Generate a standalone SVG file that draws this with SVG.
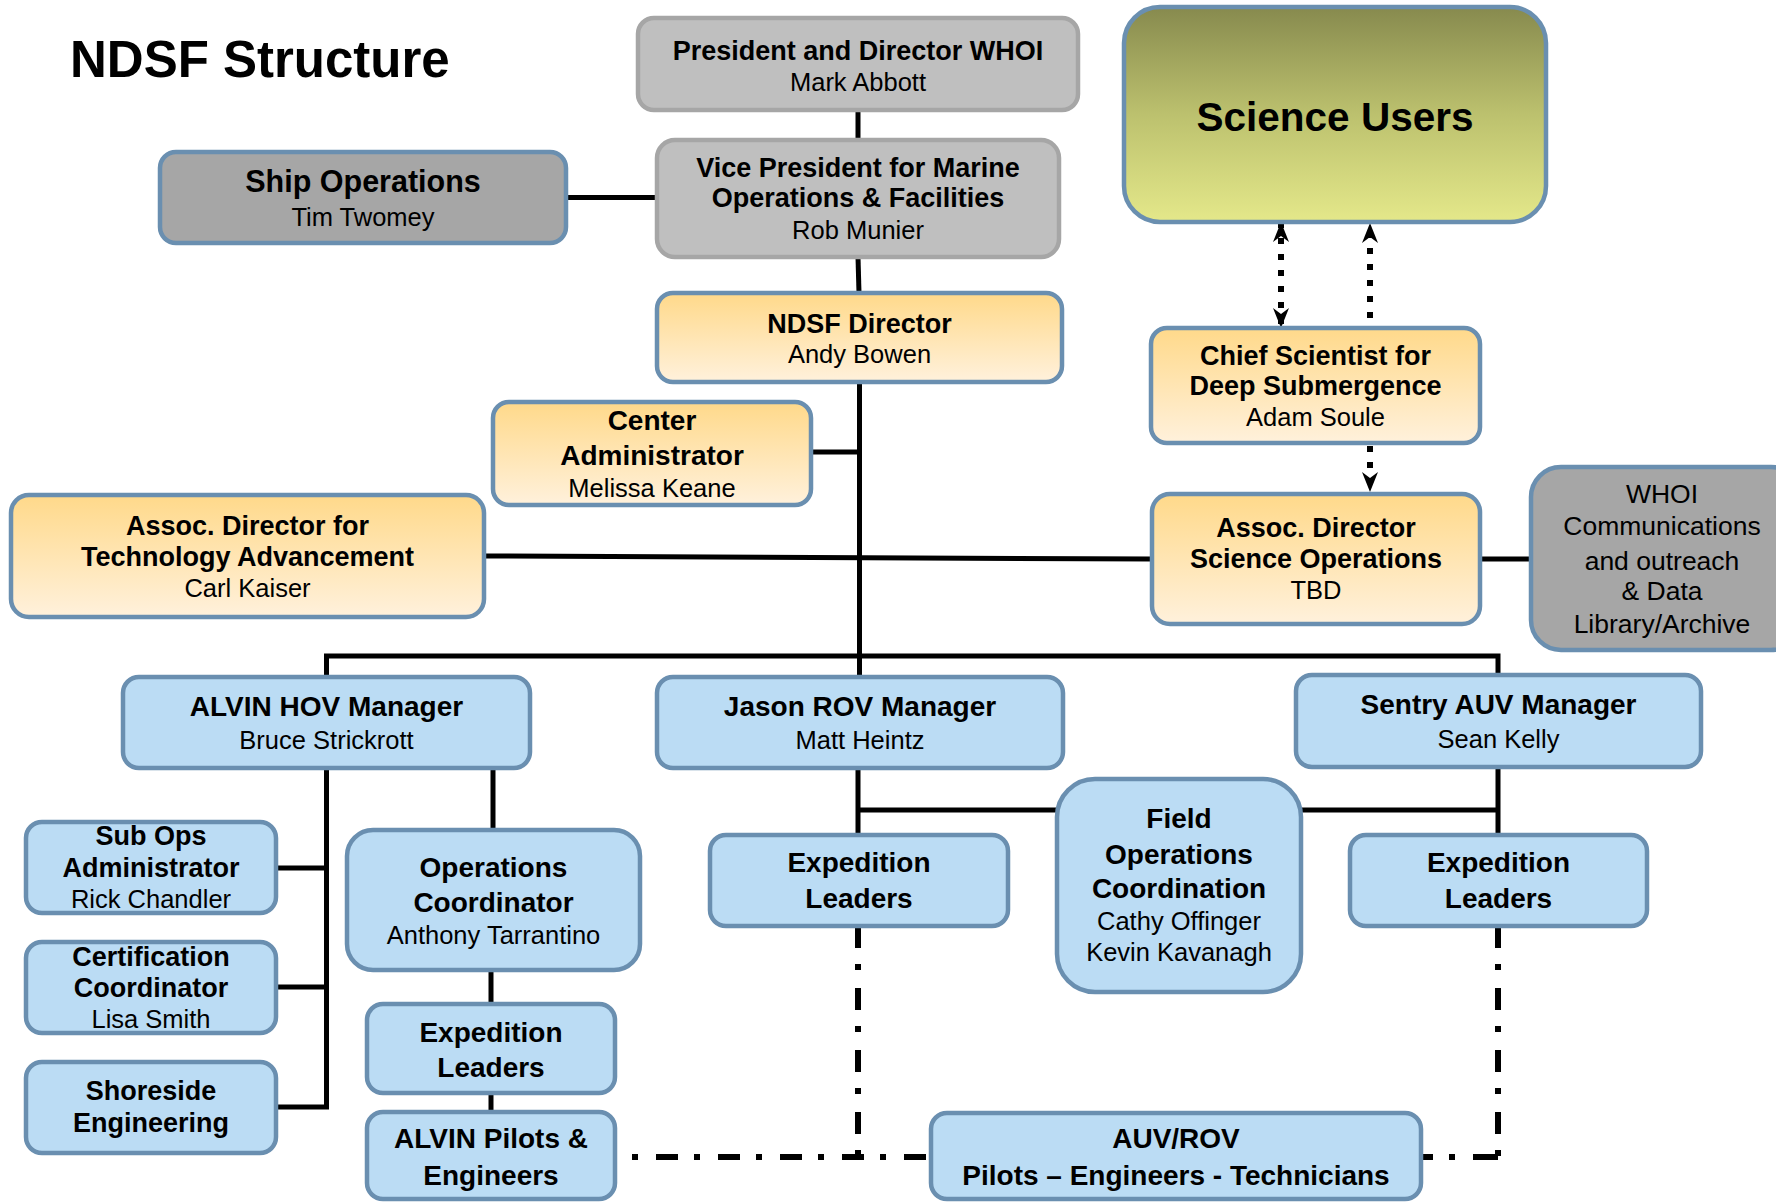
<svg xmlns="http://www.w3.org/2000/svg" width="1776" height="1202" viewBox="0 0 1776 1202">
<defs>
<linearGradient id="gOr" x1="0" y1="0" x2="0" y2="1"><stop offset="0" stop-color="#ffd98a"/><stop offset="1" stop-color="#fff1dc"/></linearGradient>
<linearGradient id="gSci" x1="0" y1="0" x2="0" y2="1"><stop offset="0" stop-color="#878a4e"/><stop offset="0.5" stop-color="#bcc16e"/><stop offset="1" stop-color="#e4e88a"/></linearGradient>
<marker id="ah" viewBox="0 0 20 16" refX="20" refY="8" markerWidth="20" markerHeight="16" markerUnits="userSpaceOnUse" orient="auto-start-reverse"><path d="M0,0 L20,8 L0,16 L6,8 Z" fill="#000"/></marker>
<style>
.b{stroke:#6a8fb0;stroke-width:4.5}
.g{fill:#bfbfbf;stroke:#a6a6a6;stroke-width:4.5}
.dg{fill:#a6a6a6}
.or{fill:url(#gOr)}
.bl{fill:#bbdcf4}
text{font-family:"Liberation Sans",Arial,sans-serif;text-anchor:middle;fill:#000}
.t{font-weight:bold;font-size:27px}
.t8{font-weight:bold;font-size:28px}
.n{font-size:25.5px}
.ln{fill:none;stroke:#000;stroke-width:5}
.dt{fill:none;stroke:#000;stroke-width:6;stroke-dasharray:6 10}
.dd{fill:none;stroke:#000;stroke-width:6;stroke-dasharray:22 16 6 18}
</style>
</defs>
<rect width="1776" height="1202" fill="#fff"/>
<text x="70" y="77" style="font-weight:bold;font-size:51px;text-anchor:start">NDSF Structure</text>

<g id="connectors">
<path class="ln" d="M858,110 V140"/>
<path class="ln" d="M566,197.5 H657"/>
<path class="ln" d="M858,257 L859,293"/>
<path class="ln" d="M859.5,382 V677"/>
<path class="ln" d="M811,452 H859.5"/>
<path class="ln" d="M484,556 L1152,559"/>
<path class="ln" d="M326.5,677 V656 H1498 V675"/>
<path class="ln" d="M1480,559 H1531"/>
<path class="ln" d="M326.5,768 V1109"/>
<path class="ln" d="M275.5,868 H326.5 M275.5,987 H326.5 M275.5,1107 H329"/>
<path class="ln" d="M493,768 V830"/>
<path class="ln" d="M491,970 V1004"/>
<path class="ln" d="M491,1093 V1112"/>
<path class="ln" d="M858,768 V835 M858,810 H1057"/>
<path class="ln" d="M1301,810 H1498 M1498,767 V835"/>
<path class="dd" d="M858,926 V1157"/>
<path class="dd" style="stroke-dasharray:6 18 22 16" d="M632,1157 H931"/>
<path class="dd" d="M1498,926 V1157"/>
<path class="dd" style="stroke-dasharray:12 16 6 18 30 10" d="M1421,1157 H1498"/>
<path class="dt" d="M1281,222 V328" marker-start="url(#ah)" marker-end="url(#ah)"/>
<path class="dt" d="M1370,318 V223" marker-end="url(#ah)"/>
<path class="dt" d="M1370,446 V492" marker-end="url(#ah)"/>
</g>

<g id="president"><rect class="g" x="638" y="18" width="440" height="92" rx="16"/>
<text class="t" x="858" y="60">President and Director WHOI</text><text class="n" x="858" y="91">Mark Abbott</text></g>

<g id="vp"><rect class="g" x="657" y="140" width="402" height="117" rx="18"/>
<text class="t" x="858" y="177">Vice President for Marine</text><text class="t" x="858" y="207">Operations &amp; Facilities</text><text class="n" x="858" y="239">Rob Munier</text></g>

<g id="ship"><rect class="b dg" x="160" y="152" width="406" height="91" rx="16"/>
<text x="363" y="192" style="font-weight:bold;font-size:30.5px">Ship Operations</text><text class="n" x="363" y="226">Tim Twomey</text></g>

<g id="science"><rect class="b" fill="url(#gSci)" x="1124" y="7" width="422" height="215" rx="36"/>
<text x="1335" y="131" style="font-weight:bold;font-size:40.5px">Science Users</text></g>

<g id="ndsf"><rect class="b or" x="657" y="293" width="405" height="89" rx="16"/>
<text class="t" x="859.5" y="333">NDSF Director</text><text class="n" x="859.5" y="363">Andy Bowen</text></g>

<g id="chief"><rect class="b or" x="1151" y="328" width="329" height="115" rx="16"/>
<text class="t" x="1315.5" y="365">Chief Scientist for</text><text class="t" x="1315.5" y="395">Deep Submergence</text><text class="n" x="1315.5" y="426">Adam Soule</text></g>

<g id="admin"><rect class="b or" x="493" y="402" width="318" height="103" rx="16"/>
<text class="t8" x="652" y="430">Center</text><text class="t8" x="652" y="465">Administrator</text><text class="n" x="652" y="497">Melissa Keane</text></g>

<g id="techadv"><rect class="b or" x="11" y="495" width="473" height="122" rx="18"/>
<text class="t" x="247.5" y="535">Assoc. Director for</text><text class="t" x="247.5" y="566">Technology Advancement</text><text class="n" x="247.5" y="597">Carl Kaiser</text></g>

<g id="assocsci"><rect class="b or" x="1152" y="494" width="328" height="130" rx="18"/>
<text class="t" x="1316" y="537">Assoc. Director</text><text class="t" x="1316" y="568">Science Operations</text><text class="n" x="1316" y="599">TBD</text></g>

<g id="whoi"><rect class="b dg" x="1531" y="467" width="270" height="183" rx="30"/>
<text x="1662" y="503" style="font-size:26.5px">WHOI</text><text x="1662" y="535" style="font-size:26.5px">Communications</text><text x="1662" y="570" style="font-size:26.5px">and outreach</text><text x="1662" y="600" style="font-size:26.5px">&amp; Data</text><text x="1662" y="633" style="font-size:26.5px">Library/Archive</text></g>

<g id="alvin"><rect class="b bl" x="123" y="677" width="407" height="91" rx="16"/>
<text class="t8" x="326.5" y="716">ALVIN HOV Manager</text><text class="n" x="326.5" y="749">Bruce Strickrott</text></g>

<g id="jason"><rect class="b bl" x="657" y="677" width="406" height="91" rx="16"/>
<text class="t8" x="860" y="716">Jason ROV Manager</text><text class="n" x="860" y="749">Matt Heintz</text></g>

<g id="sentry"><rect class="b bl" x="1296" y="675" width="405" height="92" rx="16"/>
<text class="t8" x="1498.5" y="714">Sentry AUV Manager</text><text class="n" x="1498.5" y="748">Sean Kelly</text></g>

<g id="subops"><rect class="b bl" x="26" y="822" width="250" height="91" rx="16"/>
<text class="t" x="151" y="845">Sub Ops</text><text class="t" x="151" y="877">Administrator</text><text class="n" x="151" y="908">Rick Chandler</text></g>

<g id="cert"><rect class="b bl" x="26" y="942" width="250" height="91" rx="16"/>
<text class="t" x="151" y="966">Certification</text><text class="t" x="151" y="997">Coordinator</text><text class="n" x="151" y="1028">Lisa Smith</text></g>

<g id="shore"><rect class="b bl" x="26" y="1062" width="250" height="91" rx="16"/>
<text class="t" x="151" y="1100">Shoreside</text><text class="t" x="151" y="1132">Engineering</text></g>

<g id="opscoord"><rect class="b bl" x="347" y="830" width="293" height="140" rx="26"/>
<text class="t8" x="493.5" y="877">Operations</text><text class="t8" x="493.5" y="912">Coordinator</text><text class="n" x="493.5" y="944">Anthony Tarrantino</text></g>

<g id="expL"><rect class="b bl" x="367" y="1004" width="248" height="89" rx="16"/>
<text class="t8" x="491" y="1042">Expedition</text><text class="t8" x="491" y="1077">Leaders</text></g>

<g id="pilotsL"><rect class="b bl" x="367" y="1112" width="248" height="87" rx="16"/>
<text class="t8" x="491" y="1148">ALVIN Pilots &amp;</text><text class="t8" x="491" y="1185">Engineers</text></g>

<g id="expM"><rect class="b bl" x="710" y="835" width="298" height="91" rx="16"/>
<text class="t8" x="859" y="872">Expedition</text><text class="t8" x="859" y="908">Leaders</text></g>

<g id="field"><rect class="b bl" x="1057" y="779" width="244" height="213" rx="38"/>
<text class="t8" x="1179" y="828">Field</text><text class="t8" x="1179" y="864">Operations</text><text class="t8" x="1179" y="898">Coordination</text><text class="n" x="1179" y="930">Cathy Offinger</text><text class="n" x="1179" y="961">Kevin Kavanagh</text></g>

<g id="expR"><rect class="b bl" x="1350" y="835" width="297" height="91" rx="16"/>
<text class="t8" x="1498.5" y="872">Expedition</text><text class="t8" x="1498.5" y="908">Leaders</text></g>

<g id="auvrov"><rect class="b bl" x="931" y="1113" width="490" height="86" rx="16"/>
<text class="t8" x="1176" y="1148">AUV/ROV</text><text class="t8" x="1176" y="1185">Pilots – Engineers - Technicians</text></g>
</svg>
